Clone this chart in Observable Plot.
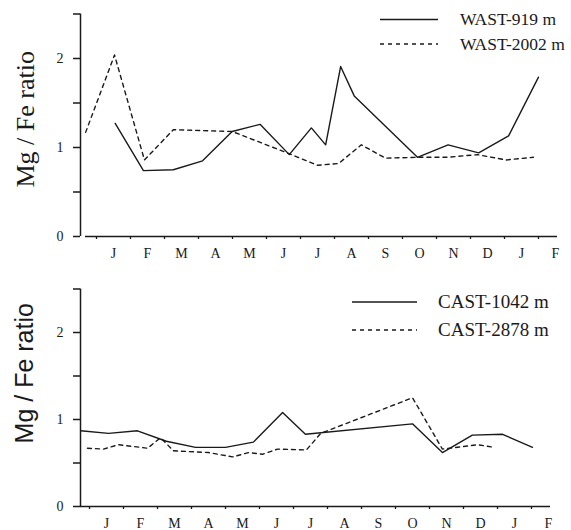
<!DOCTYPE html>
<html>
<head>
<meta charset="utf-8">
<script src="https://cdn.jsdelivr.net/npm/d3@7"></script>
<script src="https://cdn.jsdelivr.net/npm/@observablehq/plot@0.6"></script>
<style>
  body { margin: 0; background: #fff; }
  .panel { position: relative; width: 571px; height: 265px; }
  .panel svg.legend { position: absolute; left: 0; top: 0; pointer-events: none; }
</style>
</head>
<body>
<div id="chart"></div>
<script>
// ---- tick labels ----
const monthLabels = ["J","F","M","A","M","J","J","A","S","O","N","D","J","F"];
const monthTicks = d3.range(0, 14);          // month boundaries (0 = start of first Jan)
const yTicks = [0, 0.5, 1, 1.5, 2, 2.5];
const yTickLabels = {0: "0", 1: "1", 2: "2"};

// ---- series names ----
const topSeries = ["WAST-919 m", "WAST-2002 m"];
const bottomSeries = ["CAST-1042 m", "CAST-2878 m"];

// ---- WAST (top panel) ----
const wast919Month = [0.55, 1.38, 2.26, 3.12, 3.99, 4.81, 5.67, 6.32, 6.74, 7.18, 7.58, 9.44, 10.34, 11.24, 12.12, 13.0];
const wast919Value = [1.27, 0.74, 0.75, 0.85, 1.18, 1.26, 0.92, 1.22, 1.03, 1.91, 1.58, 0.89, 1.03, 0.94, 1.13, 1.79];
const wast2002Month = [-0.32, 0.53, 1.41, 2.26, 3.99, 5.67, 6.5, 7.12, 7.79, 8.5, 9.44, 10.32, 11.2, 12.05, 12.85];
const wast2002Value = [1.17, 2.04, 0.86, 1.20, 1.18, 0.93, 0.80, 0.82, 1.03, 0.88, 0.89, 0.89, 0.92, 0.86, 0.89];

// ---- CAST (bottom panel) ----
const cast1042Month = [-0.26, 0.56, 1.41, 2.26, 3.12, 4.0, 4.82, 5.68, 6.35, 9.5, 10.38, 11.26, 12.15, 13.03];
const cast1042Value = [0.87, 0.84, 0.87, 0.75, 0.68, 0.68, 0.74, 1.08, 0.83, 0.95, 0.62, 0.82, 0.83, 0.68];
const cast2878Month = [-0.06, 0.41, 0.85, 1.71, 2.09, 2.47, 3.5, 4.21, 4.68, 5.09, 5.53, 6.38, 6.8, 9.5, 10.38, 11.41, 11.91];
const cast2878Value = [0.67, 0.66, 0.71, 0.67, 0.79, 0.64, 0.62, 0.57, 0.62, 0.60, 0.66, 0.65, 0.84, 1.25, 0.66, 0.71, 0.68];

const ink = "#1a1a1a";
const SERIF = "Liberation Serif, Times New Roman, serif";
const SANS = "Liberation Sans, Arial, sans-serif";

function rows(name, months, values) {
  return months.map((m, i) => ({series: name, month: m, value: values[i]}));
}

function panel(cfg) {
  const plot = Plot.plot({
    width: 571,
    height: 265,
    marginLeft: 80,
    marginRight: cfg.mr,
    marginTop: cfg.mt,
    marginBottom: cfg.mb,
    style: {fontFamily: SERIF, fontSize: "14px", color: ink, background: "#fff"},
    x: {domain: cfg.xDomain, label: null},
    y: {domain: [0, 2.5], label: null},
    marks: [
      Plot.ruleX([cfg.xDomain[0]], {y1: 0, y2: 2.5, stroke: ink, strokeWidth: 1.5}),
      Plot.ruleY([0], {x1: cfg.xAxisStart, x2: cfg.xDomain[1], stroke: ink, strokeWidth: 1.3}),
      Plot.axisY({ticks: yTicks, tickSize: 7, tickPadding: 10, strokeWidth: 1.5,
                  tickFormat: d => yTickLabels[d] ?? "", label: null}),
      Plot.axisX({ticks: monthTicks, tickSize: 3, strokeWidth: 1.3, tickFormat: () => "", label: null}),
      Plot.axisX({ticks: monthTicks.map(m => m + 0.5), tickSize: 0, tickPadding: cfg.labelPad,
                  tickFormat: d => monthLabels[Math.floor(d)], label: null}),
      Plot.line(cfg.solid, {x: "month", y: "value", stroke: ink, strokeWidth: 1.4}),
      Plot.line(cfg.dashed, {x: "month", y: "value", stroke: ink, strokeWidth: 1.4, strokeDasharray: "4,4"}),
      Plot.text([cfg.yLabel], {text: d => d, frameAnchor: "left", rotate: -90, dx: cfg.yLabelDx, dy: cfg.yLabelDy,
                  fontSize: cfg.yLabelSize, textAnchor: "middle", lineAnchor: "middle", fill: ink})
    ]
  });

  // serif everywhere, panel-specific font on the y-axis title
  const sel = d3.select(plot);
  sel.selectAll("text").style("font-family", SERIF);
  sel.selectAll('g[aria-label="text"] text').style("font-family", cfg.yLabelFont);

  const wrap = document.createElement("div");
  wrap.className = "panel";
  wrap.appendChild(plot);

  const leg = d3.create("svg").attr("class", "legend").attr("width", 571).attr("height", 265);
  cfg.legend.forEach((name, i) => {
    const y = cfg.legendY[i];
    leg.append("line")
      .attr("x1", cfg.legendX1).attr("x2", cfg.legendX2)
      .attr("y1", y).attr("y2", y)
      .attr("stroke", ink).attr("stroke-width", 1.4)
      .attr("stroke-dasharray", i ? "4,4" : null);
    leg.append("text")
      .attr("x", cfg.legendTextX).attr("y", y).attr("dy", "0.33em")
      .style("font-family", SERIF)
      .attr("font-size", cfg.legendSize)
      .attr("fill", ink)
      .text(name);
  });
  wrap.appendChild(leg.node());
  return wrap;
}

const chart = document.getElementById("chart");

chart.appendChild(panel({
  mr: 14, mt: 13.5, mb: 29,
  xDomain: [-16 / 34, 461 / 34],
  xAxisStart: -11 / 34,
  labelPad: 11.5,
  solid: rows(topSeries[0], wast919Month, wast919Value),
  dashed: rows(topSeries[1], wast2002Month, wast2002Value),
  yLabel: "Mg / Fe ratio",
  yLabelFont: SERIF,
  yLabelSize: 26,
  yLabelDx: -55, yLabelDy: -6,
  legend: topSeries,
  legendX1: 380, legendX2: 438, legendTextX: 460, legendY: [19.5, 44], legendSize: 17.5
}));

chart.appendChild(panel({
  mr: 21, mt: 23.5, mb: 24,
  xDomain: [-9 / 34, 461 / 34],
  xAxisStart: -9 / 34,
  labelPad: 12,
  solid: rows(bottomSeries[0], cast1042Month, cast1042Value),
  dashed: rows(bottomSeries[1], cast2878Month, cast2878Value),
  yLabel: "Mg / Fe ratio",
  yLabelFont: SANS,
  yLabelSize: 25,
  yLabelDx: -56, yLabelDy: -24.5,
  legend: bottomSeries,
  legendX1: 352, legendX2: 417, legendTextX: 438, legendY: [37, 65], legendSize: 19
}));
</script>
</body>
</html>
